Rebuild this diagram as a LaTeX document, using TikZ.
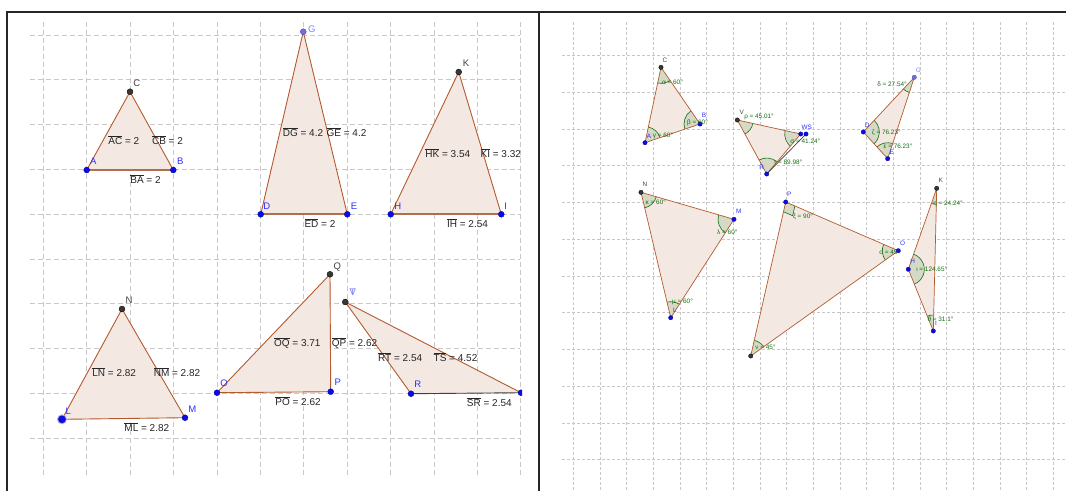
\documentclass[tikz,border=0pt]{standalone}
\usepackage{fontspec}
\setmainfont{Liberation Sans}
\usetikzlibrary{angles}

\definecolor{edgebrown}{RGB}{180,90,45}
\definecolor{basebrown}{RGB}{175,110,80}
\definecolor{trifill}{RGB}{244,232,226}
\definecolor{ptblue}{RGB}{10,10,235}
\definecolor{lblblue}{RGB}{45,45,255}
\definecolor{ptdark}{RGB}{55,55,55}
\definecolor{ptlight}{RGB}{110,110,235}
\definecolor{lbllight}{RGB}{130,130,250}
\definecolor{anggreen}{RGB}{20,110,20}
\definecolor{secfill}{RGB}{212,218,198}
\definecolor{gridgray}{RGB}{200,200,200}

\newcommand{\seg}[1]{$\overline{\mbox{#1}}$}

\begin{document}
\begin{tikzpicture}[x=1pt,y=-1pt,
  panelframe/.style={line width=2.2pt,draw=black!85},
  lgrid/.style={draw=gridgray,line width=0.7pt,dash pattern=on 5pt off 3pt},
  rgrid/.style={draw=gridgray,line width=0.6pt,dash pattern=on 3pt off 2pt},
  tri/.style={draw=edgebrown,line width=0.9pt,line join=round},
  rtri/.style={draw=edgebrown,line width=0.7pt,line join=round},
  baseseg/.style={draw=basebrown,line width=1.8pt},
  darkseg/.style={draw=black!75,line width=0.9pt},
  bluedot/.style={fill=ptblue,draw=ptblue!60!black,line width=0.3pt},
  darkdot/.style={fill=ptdark,draw=black,line width=0.3pt},
  lightdot/.style={fill=ptlight,draw=ptlight!60!black,line width=0.3pt},
  meas/.style={font=\fontsize{10}{12}\selectfont,anchor=base,inner sep=0pt,text=black!85},
  plbl/.style={font=\fontsize{9.5}{11}\selectfont,anchor=base,inner sep=0pt},
  rlbl/.style={font=\fontsize{6.4}{8}\selectfont,anchor=base,inner sep=0pt},
  albl/.style={font=\fontsize{6.4}{8}\selectfont,anchor=base,inner sep=0pt,text=anggreen},
  angsec/.style={draw=anggreen,fill=secfill,line width=0.6pt,angle radius=16pt},
]
\useasboundingbox (0,0) rectangle (1066,491);

% left panel: grid
\begin{scope}
\clip (8,13) rectangle (522,491);
\foreach \i in {0,...,11}
  \draw[lgrid] ({43.3+43.4*\i},22) -- ({43.3+43.4*\i},475);
\foreach \j in {0,...,9}
  \draw[lgrid] (30,{35+44.8*\j}) -- (520,{35+44.8*\j});

% left panel: points
\coordinate (lA) at (86.7,170);
\coordinate (lB) at (173.3,170);
\coordinate (lC) at (130,91.7);
\coordinate (lD) at (260.7,214.3);
\coordinate (lE) at (347.3,214.3);
\coordinate (lG) at (303.3,31.7);
\coordinate (lH) at (390.7,214.3);
\coordinate (lI) at (501.3,214.3);
\coordinate (lK) at (458.7,72);
\coordinate (lN) at (122,309);
\coordinate (lL) at (62,419.3);
\coordinate (lM) at (185,417.7);
\coordinate (lO) at (217,392.7);
\coordinate (lP) at (330.7,391.7);
\coordinate (lQ) at (330,274.3);
\coordinate (lT) at (345.3,302);
\coordinate (lR) at (411,393.7);
\coordinate (lS) at (521,392.7);

% left panel: triangles
\fill[trifill] (lA) -- (lB) -- (lC) -- cycle;
\fill[trifill] (lD) -- (lE) -- (lG) -- cycle;
\fill[trifill] (lH) -- (lI) -- (lK) -- cycle;
\fill[trifill] (lL) -- (lM) -- (lN) -- cycle;
\fill[trifill] (lO) -- (lP) -- (lQ) -- cycle;
\fill[trifill] (lR) -- (lS) -- (lT) -- cycle;
\draw[tri] (lA) -- (lC) -- (lB);
\draw[tri] (lD) -- (lG) -- (lE);
\draw[tri] (lH) -- (lK) -- (lI);
\draw[tri] (lM) -- (lL) -- (lN) -- (lM);
\draw[tri] (lP) -- (lO) -- (lQ) -- (lP);
\draw[tri] (lR) -- (lT) -- (lS);
\draw[baseseg] (lA) -- (lB);
\draw[baseseg] (lD) -- (lE);
\draw[baseseg] (lH) -- (lI);
\draw[darkseg] (lR) -- (lS);

\foreach \p in {lA,lB,lD,lE,lH,lI,lM,lO,lP,lR,lS}
  \filldraw[bluedot] (\p) circle[radius=3pt];
\foreach \p in {lC,lK,lN,lQ,lT}
  \filldraw[darkdot] (\p) circle[radius=3pt];
\filldraw[lightdot] (lG) circle[radius=3pt];
\fill[ptblue!35] (lL) circle[radius=5pt];
\filldraw[bluedot] (lL) circle[radius=3.6pt];
\end{scope}

% left panel: lengths
\node[meas] (mAC) at (123.8,144.6) {\seg{AC} = 2};
\node[meas] (mCB) at (167.5,144.6) {\seg{CB} = 2};
\node[meas] (mBA) at (145.5,183.6) {\seg{BA} = 2};
\node[meas] (mDG) at (303,136.9) {\seg{DG} = 4.2};
\node[meas] (mGE) at (346.5,136.9) {\seg{GE} = 4.2};
\node[meas] (mED) at (320,227.6) {\seg{ED} = 2};
\node[meas] (mHK) at (447.8,157.3) {\seg{HK} = 3.54};
\node[meas] (mKI) at (500.8,157.3) {\seg{KI} = 3.32};
\node[meas] (mIH) at (467.5,227.6) {\seg{IH} = 2.54};
\node[meas] (mLN) at (114.2,376.9) {\seg{LN} = 2.82};
\node[meas] (mNM) at (177,376.3) {\seg{NM} = 2.82};
\node[meas] (mML) at (146.8,431.9) {\seg{ML} = 2.82};
\node[meas] (mOQ) at (297.3,346.9) {\seg{OQ} = 3.71};
\node[meas] (mQP) at (354.5,346.9) {\seg{QP} = 2.62};
\node[meas] (mPO) at (298,405.6) {\seg{PO} = 2.62};
\node[meas] (mRT) at (400.2,361.3) {\seg{RT} = 2.54};
\node[meas] (mTS) at (455.5,361.3) {\seg{TS} = 4.52};
\node[meas] (mSR) at (489.3,406.9) {\seg{SR} = 2.54};

% left panel: point names
\node[plbl,text=black!75] (nlC) at (136.7,86.1) {C};
\node[plbl,text=lblblue] (nlA) at (93.3,164.7) {A};
\node[plbl,text=lblblue] (nlB) at (180.3,164.4) {B};
\node[plbl,text=lbllight] (nlG) at (311.7,32.7) {G};
\node[plbl,text=lblblue] (nlD) at (266.7,209.1) {D};
\node[plbl,text=lblblue] (nlE) at (354,209.1) {E};
\node[plbl,text=black!75] (nlK) at (466,66.1) {K};
\node[plbl,text=lblblue] (nlH) at (397.7,209.1) {H};
\node[plbl,text=lblblue] (nlI) at (505.7,209.1) {I};
\node[plbl,text=black!75] (nlN) at (129,303.4) {N};
\node[plbl,text=lblblue] (nlL) at (68.3,414.1) {L};
\node[plbl,text=lblblue] (nlM) at (192.3,412.4) {M};
\node[plbl,text=lblblue] (nlO) at (224,386.7) {O};
\node[plbl,text=lblblue] (nlP) at (337.7,385.1) {P};
\node[plbl,text=black!75] (nlQ) at (337.3,269.1) {Q};
\node[plbl,text=lbllight] (nlT) at (352.7,295.7) {T};
\node[plbl,text=lbllight] (nlV) at (352.7,295.7) {V};
\node[plbl,text=lblblue] (nlR) at (417.7,387.7) {R};

% right panel: grid
\foreach \i in {0,...,18}
  \draw[rgrid] ({573.3+26.67*\i},22) -- ({573.3+26.67*\i},491);
\foreach \j in {0,...,11}
  \draw[rgrid] (562,{55.5+36.75*\j}) -- (1066,{55.5+36.75*\j});

% right panel: points
\coordinate (rC) at (661,67.3);
\coordinate (rB) at (700,124);
\coordinate (rA) at (645,142.7);
\coordinate (rV) at (737.3,120);
\coordinate (rW) at (800.7,134);
\coordinate (rS) at (806,134);
\coordinate (rR) at (766.7,174);
\coordinate (rG) at (914.3,77.3);
\coordinate (rD) at (863.3,132);
\coordinate (rE) at (887.7,158.7);
\coordinate (rN) at (641,192.3);
\coordinate (rM) at (734,219.3);
\coordinate (rL) at (670.7,317.7);
\coordinate (rP) at (785.7,202);
\coordinate (rO) at (898.3,250.7);
\coordinate (rQ) at (750.7,356);
\coordinate (rK) at (936.7,188.3);
\coordinate (rH) at (908.3,269.3);
\coordinate (rI) at (933.3,331);

% right panel: triangles and angles
\fill[trifill] (rA) -- (rB) -- (rC) -- cycle;
\fill[trifill] (rV) -- (rW) -- (rR) -- cycle;
\fill[trifill] (rD) -- (rE) -- (rG) -- cycle;
\fill[trifill] (rN) -- (rM) -- (rL) -- cycle;
\fill[trifill] (rP) -- (rO) -- (rQ) -- cycle;
\fill[trifill] (rK) -- (rH) -- (rI) -- cycle;

\pic[angsec] {angle = rA--rC--rB};
\pic[angsec] {angle = rB--rA--rC};
\pic[angsec] {angle = rC--rB--rA};
\pic[angsec] {angle = rR--rV--rW};
\pic[angsec] {angle = rW--rR--rV};
\pic[angsec] {angle = rV--rW--rR};
\pic[angsec] {angle = rD--rG--rE};
\pic[angsec] {angle = rE--rD--rG};
\pic[angsec] {angle = rG--rE--rD};
\pic[angsec] {angle = rL--rN--rM};
\pic[angsec] {angle = rM--rL--rN};
\pic[angsec] {angle = rN--rM--rL};
\pic[angsec,angle radius=10pt] {right angle = rQ--rP--rO};
\pic[angsec] {angle = rO--rQ--rP};
\pic[angsec] {angle = rP--rO--rQ};
\pic[angsec] {angle = rH--rK--rI};
\pic[angsec] {angle = rI--rH--rK};
\pic[angsec] {angle = rK--rI--rH};

\draw[rtri] (rA) -- (rB) -- (rC) -- cycle;
\draw[rtri] (rW) -- (rV) -- (rR) -- (rW);
\draw[darkseg,line width=0.7pt] (rR) -- (rS);
\draw[rtri] (rD) -- (rE) -- (rG) -- cycle;
\draw[rtri] (rN) -- (rM) -- (rL) -- cycle;
\draw[rtri] (rP) -- (rO) -- (rQ) -- cycle;
\draw[rtri] (rK) -- (rH) -- (rI) -- cycle;

\foreach \p in {rA,rB,rW,rS,rR,rD,rE,rM,rL,rP,rO,rH,rI}
  \filldraw[bluedot] (\p) circle[radius=2.2pt];
\foreach \p in {rC,rV,rN,rQ,rK}
  \filldraw[darkdot] (\p) circle[radius=2.2pt];
\filldraw[lightdot] (rG) circle[radius=2.2pt];

% right panel: angle values
\node[albl] (aC) at (672.5,84) {α = 60°};
\node[albl] (aB) at (697.5,124) {β = 60°};
\node[albl] (aA) at (663,137.3) {γ = 60°};
\node[albl] (aV) at (759,118) {ρ = 45.01°};
\node[albl] (aW) at (805.3,143) {σ = 41.24°};
\node[albl] (aR) at (788,164.3) {τ = 89.98°};
\node[albl] (aG) at (892,86.6) {δ = 27.54°};
\node[albl] (aD) at (886.3,134) {ζ = 76.23°};
\node[albl] (aE) at (898,148) {ε = 76.23°};
\node[albl] (aN) at (655.8,204) {κ = 60°};
\node[albl] (aM) at (727.3,234.6) {λ = 60°};
\node[albl] (aL) at (682.5,303.3) {μ = 60°};
\node[albl] (aP) at (803,218.3) {ξ = 90°};
\node[albl] (aO) at (889.7,254) {ο = 45°};
\node[albl] (aQ) at (765.5,349) {ν = 45°};
\node[albl] (aK) at (948,205) {η = 24.24°};
\node[albl] (aH) at (931.7,271.6) {ι = 124.65°};
\node[albl] (aI) at (940.5,321.3) {θ = 31.1°};

% right panel: point names
\node[rlbl,text=black!75] (nrC) at (665,62.3) {C};
\node[rlbl,text=lblblue] (nrB) at (704,117.5) {B};
\node[rlbl,text=lblblue] (nrA) at (649,138.3) {A};
\node[rlbl,text=black!75] (nrV) at (741.7,114) {V};
\node[rlbl,text=lblblue] (nrWS) at (806.7,129) {WS};
\node[rlbl,text=lblblue] (nrR) at (761.7,169) {R};
\node[rlbl,text=lbllight] (nrG) at (918.3,72.3) {G};
\node[rlbl,text=lblblue] (nrD) at (867.3,127.3) {D};
\node[rlbl,text=lblblue] (nrE) at (891.7,154) {E};
\node[rlbl,text=black!75] (nrN) at (645,186.6) {N};
\node[rlbl,text=lblblue] (nrM) at (738.7,213.3) {M};
\node[rlbl,text=lblblue] (nrL) at (675,312.3) {L};
\node[rlbl,text=lblblue] (nrP) at (789.3,196.3) {P};
\node[rlbl,text=lblblue] (nrO) at (902.7,245) {O};
\node[rlbl,text=black!75] (nrK) at (940.7,182.3) {K};
\node[rlbl,text=lblblue] (nrH) at (912.7,263.3) {H};
\node[rlbl,text=lblblue] (nrI) at (936,325.6) {I};

% frames
\draw[panelframe] (6,12) -- (1066,12);
\draw[panelframe] (7,12) -- (7,491);
\draw[panelframe] (539,12) -- (539,491);
\end{tikzpicture}
\end{document}
